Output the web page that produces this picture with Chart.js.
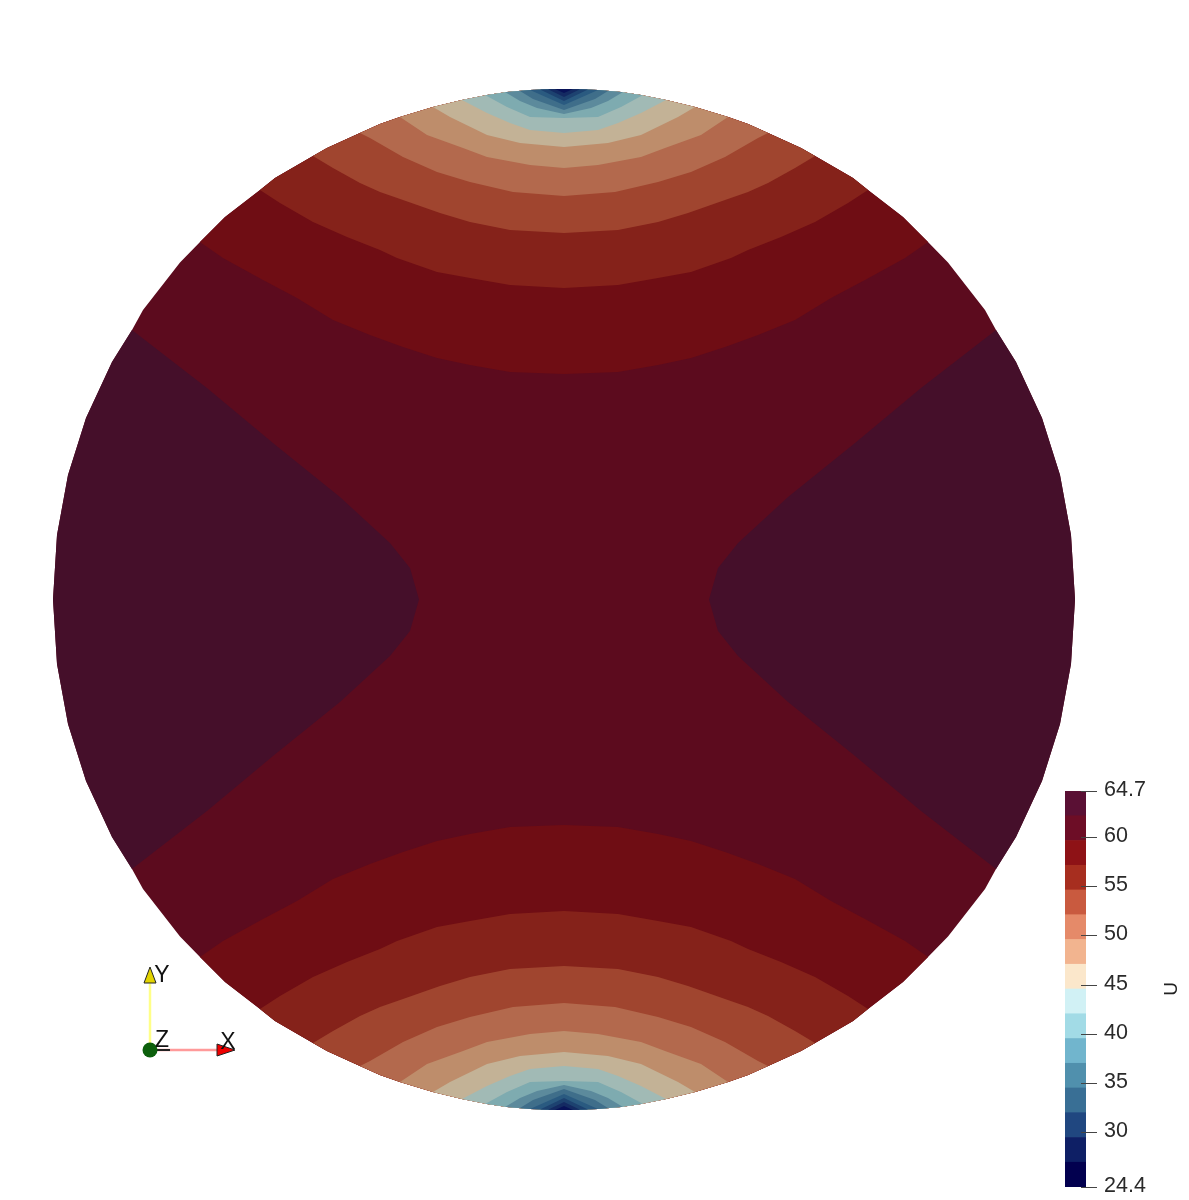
<!DOCTYPE html>
<html>
<head>
<meta charset="utf-8">
<title>U</title>
<script src="https://cdn.jsdelivr.net/npm/chart.js@4"></script>
<style>
  html, body { margin: 0; padding: 0; background: #fff; overflow: hidden; }
  #wrap { position: relative; width: 1189px; height: 1200px; }
  #diskChart { position: absolute; left: 0; top: 0; }
  #barChart { position: absolute; left: 1055px; top: 770px; }
</style>
</head>
<body>
<div id="wrap">
  <canvas id="diskChart" width="1189" height="1200"></canvas>
  <canvas id="barChart" width="134" height="430"></canvas>
</div>
<script>
// disk outline, one quarter (top -> right)
var outlineX = [0, 34, 57, 77, 102, 131, 164, 184, 204, 237, 251, 289, 304, 339, 364, 384, 421, 432, 452, 478, 496, 507, 511];
var outlineY = [510.5, 509.5, 507.5, 504.5, 499.5, 492.5, 482.5, 475.5, 466.5, 451.5, 443.5, 421.5, 409.5, 382.5, 357.5, 337, 289.5, 269.5, 237.5, 181.5, 124.5, 64.5, 0];

// side lobes (64.7 side), tip -> outline
var lobeX = [145, 154, 174, 224, 291, 357, 432];
var lobeY = [0, 31.5, 56.5, 102.5, 156.5, 211.5, 269.5];

// contour lines of the caps, centre line -> outline
var contourX = [
  [0, 54, 94, 127, 161, 194, 231, 267, 301, 341, 364],
  [0, 54, 94, 127, 167, 184, 217, 251, 284, 304],
  [0, 54, 94, 124, 161, 184, 204, 231, 251],
  [0, 51, 94, 127, 161, 194, 204],
  [0, 34, 77, 101, 137, 164],
  [0, 44, 77, 114, 131],
  [0, 34, 54, 77, 102],
  [0, 34, 57, 79],
  [0, 27, 44, 59],
  [0, 31, 44],
  [0, 16, 34],
  [0, 24],
  [0, 16],
  [0, 9]
];
var contourY = [
  [225.5, 227.5, 234.5, 241.5, 252.5, 264.5, 279.5, 301.5, 319.5, 341.5, 357.5],
  [311.5, 314.5, 321.5, 327.5, 341.5, 349.5, 362.5, 377.5, 396.5, 409.5],
  [366.5, 369.5, 377.5, 386.5, 399.5, 407.5, 416.5, 431.5, 443.5],
  [403.5, 407.5, 417.5, 427.5, 442.5, 461.5, 466.5],
  [431.5, 434.5, 442.5, 451.5, 464.5, 482.5],
  [452.5, 456.5, 464.5, 482.5, 492.5],
  [466.5, 469.5, 476.5, 486.5, 499.5],
  [481.5, 482.5, 492.5, 504.5],
  [485.5, 491.5, 498.5, 507.5],
  [489.5, 500.5, 508.5],
  [494.5, 501.5, 509.5],
  [498.5, 510],
  [502.5, 510.3],
  [506.5, 510.5]
];

var middleColor = "#5c0b1e";
var lobeColor = "#450f2a";
var capColors = ["#6f0d14", "#85221a", "#a0452f", "#b3694d", "#be8d6b", "#c3b296", "#a1bab5",
  "#7eabb0", "#5c8a9c", "#3f6e8a", "#2a5a80", "#1d4270", "#142a62", "#081258"];

// colour bar
var barEdges = [24.4, 26.92, 29.44, 31.96, 34.48, 36.99, 39.51, 42.03, 44.55, 47.07, 49.59, 52.11, 54.63, 57.14, 59.66, 62.18, 64.7];
var barColors = ["#02004f", "#0e1f65", "#204780", "#396f95", "#5090ad", "#71b5cd", "#a2dbe6", "#d1f1f5",
  "#fbe7cb", "#f2b48f", "#e58a69", "#c95a3f", "#a72e1f", "#8e1216", "#6d0d26", "#5a1034"];
var barTicks = [24.4, 30, 35, 40, 45, 50, 55, 60, 64.7];
var barTitle = "U";

// orientation marker
var axisXLine = [{x: -414, y: -450.5}, {x: -347, y: -450.5}];
var axisXDark = [{x: -407, y: -450.5}, {x: -394, y: -450.5}];
var axisYLine = [{x: -414, y: -450.5}, {x: -414, y: -384}];
var coneX = [{x: -347, y: -444.5}, {x: -329, y: -450.5}, {x: -347, y: -456.5}];
var coneY = [{x: -420, y: -383.5}, {x: -414, y: -367.5}, {x: -408, y: -383.5}];
var origin = [{x: -414, y: -450.5}];
var triadNames = ["X", "Y", "Z"];
var triadNameX = [-336, -402, -402];
var triadNameY = [-443, -376, -441];

function pts(xs, ys, sx, sy) {
  return xs.map(function (x, i) { return {x: x * sx, y: ys[i] * sy}; });
}

function capShape(k, sy) {
  var xs = contourX[k], ys = contourY[k];
  var endX = xs[xs.length - 1];
  var rimX = [], rimY = [];
  for (var i = outlineX.length - 1; i >= 0; i--) {
    if (outlineX[i] < endX) { rimX.push(outlineX[i]); rimY.push(outlineY[i]); }
  }
  var right = pts(xs, ys, 1, sy).concat(pts(rimX, rimY, 1, sy));
  var left = pts(rimX, rimY, -1, sy).reverse().concat(pts(xs, ys, -1, sy).reverse());
  return left.concat(right);
}

function lobeShape(sx) {
  var endY = lobeY[lobeY.length - 1];
  var rimX = [], rimY = [];
  for (var i = 0; i < outlineX.length; i++) {
    if (outlineY[i] < endY) { rimX.push(outlineX[i]); rimY.push(outlineY[i]); }
  }
  var upper = pts(lobeX, lobeY, sx, 1).concat(pts(rimX, rimY, sx, 1));
  return upper.concat(upper.slice().reverse().map(function (p) { return {x: p.x, y: -p.y}; }));
}

function diskShape() {
  var a = pts(outlineX, outlineY, 1, 1);
  var b = pts(outlineX, outlineY, 1, -1).reverse();
  var c = pts(outlineX, outlineY, -1, -1);
  var d = pts(outlineX, outlineY, -1, 1).reverse();
  return a.concat(b, c, d);
}

var diskSets = [];
function addShape(points, color, line, width) {
  diskSets.push({
    data: points,
    showLine: true,
    fill: color ? "shape" : false,
    backgroundColor: color || "transparent",
    borderColor: line || "transparent",
    borderWidth: width || 0,
    pointRadius: 0,
    order: -diskSets.length
  });
}

addShape(diskShape(), middleColor);
addShape(lobeShape(1), lobeColor);
addShape(lobeShape(-1), lobeColor);
capColors.forEach(function (c, k) {
  addShape(capShape(k, 1), c);
  addShape(capShape(k, -1), c);
});
addShape(axisYLine, null, "#ffff88", 2.5);
addShape(axisXLine, null, "#ff9a9a", 2.5);
addShape(axisXDark, null, "#222", 2);
addShape(coneY.concat(coneY[0]), "#e3d400", "#222", 1);
addShape(coneX.concat(coneX[0]), "#ee0000", "#222", 1);
diskSets.push({data: origin, pointRadius: 7.5, backgroundColor: "#0c5f0c", borderWidth: 0, order: -diskSets.length});

var triadText = {
  id: "triadText",
  afterDraw: function (chart) {
    var c = chart.ctx;
    c.save();
    c.font = '23px "Liberation Sans"';
    c.fillStyle = "#111";
    c.textAlign = "center";
    c.textBaseline = "middle";
    triadNames.forEach(function (t, i) {
      c.fillText(t, chart.scales.x.getPixelForValue(triadNameX[i]), chart.scales.y.getPixelForValue(triadNameY[i]));
    });
    c.restore();
  }
};

new Chart(document.getElementById("diskChart"), {
  type: "scatter",
  data: {datasets: diskSets},
  options: {
    responsive: false,
    animation: false,
    events: [],
    layout: {padding: 0, autoPadding: false},
    plugins: {legend: {display: false}, tooltip: {enabled: false}},
    scales: {
      x: {type: "linear", min: -564, max: 625, display: false},
      y: {type: "linear", min: -600.5, max: 599.5, display: false}
    }
  },
  plugins: [triadText]
});

var barSets = barColors.map(function (c, i) {
  return {data: [[barEdges[i], barEdges[i + 1]]], backgroundColor: c, borderWidth: 0, barPercentage: 1, categoryPercentage: 1, grouped: false};
});

var barMarks = {
  id: "barMarks",
  afterDraw: function (chart) {
    var c = chart.ctx, s = chart.scales.y, right = chart.chartArea.right;
    c.save();
    c.strokeStyle = "#444";
    c.lineWidth = 1;
    barTicks.forEach(function (v) {
      var y = Math.round(s.getPixelForValue(v)) + 0.5;
      c.beginPath();
      c.moveTo(right - 5, y);
      c.lineTo(right + 11, y);
      c.stroke();
    });
    c.translate(right + 86, s.getPixelForValue((barEdges[0] + barEdges[16]) / 2));
    c.rotate(-Math.PI / 2);
    c.font = '19px "Liberation Sans"';
    c.fillStyle = "#222";
    c.textAlign = "center";
    c.textBaseline = "middle";
    c.fillText(barTitle, 0, 0);
    c.restore();
  }
};

new Chart(document.getElementById("barChart"), {
  type: "bar",
  data: {labels: ["U"], datasets: barSets},
  options: {
    responsive: false,
    animation: false,
    events: [],
    layout: {padding: {left: 10, top: 21, bottom: 13, right: 0}, autoPadding: false},
    plugins: {legend: {display: false}, tooltip: {enabled: false}},
    scales: {
      x: {display: false},
      y: {
        position: "right",
        min: 24.4,
        max: 64.7,
        grid: {display: false},
        border: {display: false},
        afterBuildTicks: function (s) { s.ticks = barTicks.map(function (v) { return {value: v}; }); },
        afterFit: function (s) { s.width = 103; s.paddingTop = 0; s.paddingBottom = 0; },
        ticks: {
          autoSkip: false,
          padding: 10,
          labelOffset: -1,
          color: "#2a2a2a",
          font: {family: "Liberation Sans", size: 21.5},
          callback: function (v) { return String(v); }
        }
      }
    }
  },
  plugins: [barMarks]
});
</script>
</body>
</html>
